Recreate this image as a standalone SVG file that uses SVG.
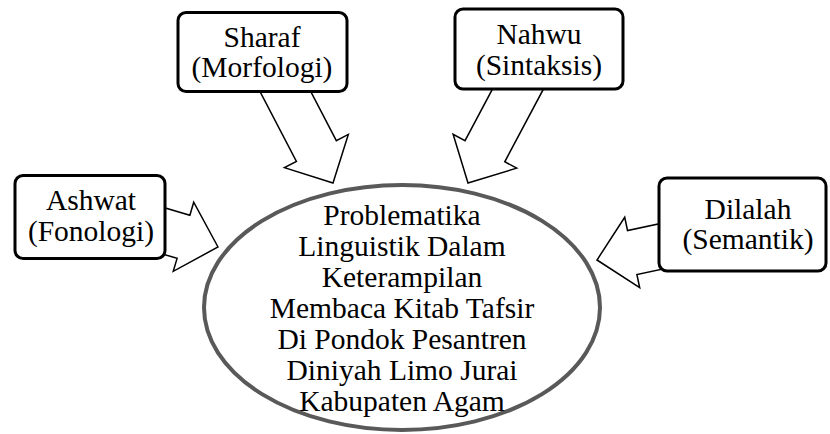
<svg xmlns="http://www.w3.org/2000/svg" width="830" height="434" viewBox="0 0 830 434">
<style>
  text { font-family: "Liberation Serif", "Times New Roman", serif; font-size: 29.5px; fill: #000; text-anchor: middle; }
  .box { fill: #fff; stroke: #000; stroke-width: 3; }
  .arrow { fill: #fff; stroke: #000; stroke-width: 1.5; stroke-linejoin: miter; }
  .main { fill: #fff; stroke: #595959; stroke-width: 4; }
</style>
<defs>
  <path id="blockArrow" d="M0,0 L-36,-36 L-36,-22.5 L-125,-22.5 L-125,22.5 L-36,22.5 L-36,36 Z"/>
</defs>
<rect width="830" height="434" fill="#fff"/>
<g id="connectors">
  <use href="#blockArrow" class="arrow" transform="translate(218,247) rotate(16.5)"/>
  <use href="#blockArrow" class="arrow" transform="translate(333,183) rotate(62.5)"/>
  <use href="#blockArrow" class="arrow" transform="translate(468,183) rotate(118)"/>
  <use href="#blockArrow" class="arrow" transform="translate(597,260) rotate(168)"/>
</g>
<g id="center">
  <ellipse class="main" cx="402" cy="307.5" rx="198" ry="122.5"/>
  <text x="402" y="224.5">Problematika</text>
  <text x="402" y="255.5">Linguistik Dalam</text>
  <text x="402" y="286.5">Keterampilan</text>
  <text x="402" y="317.5">Membaca Kitab Tafsir</text>
  <text x="402" y="348.5">Di Pondok Pesantren</text>
  <text x="402" y="379.5">Diniyah Limo Jurai</text>
  <text x="402" y="410.5">Kabupaten Agam</text>
</g>
<g id="sharaf">
  <rect class="box" x="178" y="12.5" width="169" height="79" rx="8"/>
  <text x="262" y="46.5">Sharaf</text>
  <text x="262" y="77">(Morfologi)</text>
</g>
<g id="nahwu">
  <rect class="box" x="455" y="9" width="168" height="80" rx="8"/>
  <text x="539" y="44">Nahwu</text>
  <text x="539" y="74.5">(Sintaksis)</text>
</g>
<g id="ashwat">
  <rect class="box" x="15" y="175.5" width="150" height="83" rx="8"/>
  <text x="91" y="210">Ashwat</text>
  <text x="91" y="241">(Fonologi)</text>
</g>
<g id="dilalah">
  <rect class="box" x="659" y="178" width="167" height="93" rx="8"/>
  <text x="748" y="219">Dilalah</text>
  <text x="748" y="249">(Semantik)</text>
</g>
</svg>
